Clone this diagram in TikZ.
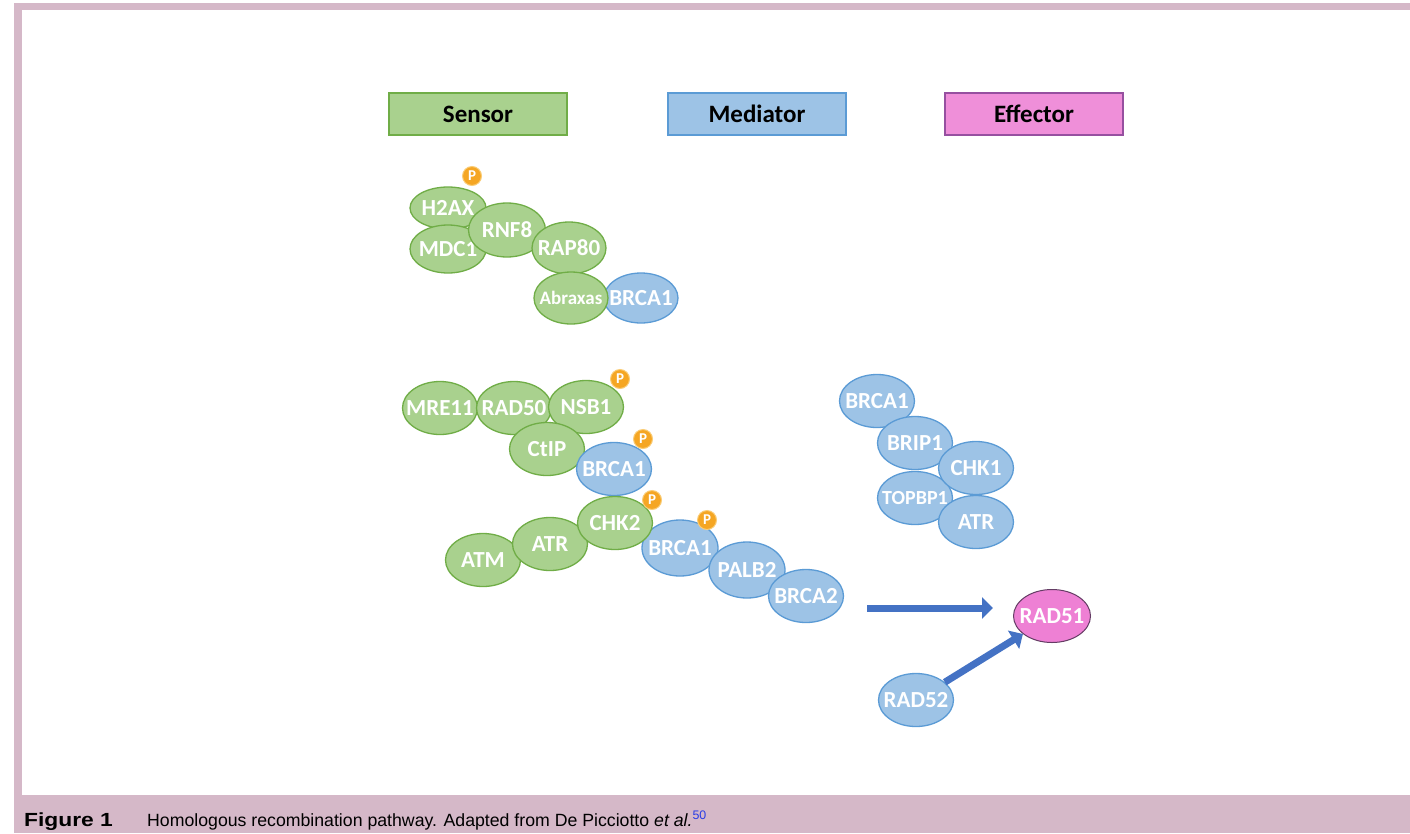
\documentclass[tikz,border=0pt]{standalone}
\usepackage{fontspec}
\setmainfont{Carlito}
\newfontfamily\capfont{Liberation Sans}
\usetikzlibrary{shapes.geometric,arrows.meta}
\definecolor{gfill}{RGB}{169,209,142}
\definecolor{gline}{RGB}{112,173,71}
\definecolor{bfill}{RGB}{157,195,230}
\definecolor{bline}{RGB}{91,155,213}
\definecolor{efill}{RGB}{239,143,217}
\definecolor{eline}{RGB}{150,80,160}
\definecolor{rfill}{RGB}{238,128,212}
\definecolor{rline}{RGB}{100,60,100}
\definecolor{framec}{RGB}{213,184,200}
\definecolor{arrowc}{RGB}{68,114,196}
\definecolor{pfill}{RGB}{245,166,35}
\definecolor{pline}{RGB}{250,205,120}
\definecolor{refblue}{RGB}{40,60,230}
\tikzset{
  prot/.style={ellipse, line width=1.3pt, minimum width=75pt, minimum height=53pt, inner sep=0pt},
  gp/.style={prot, draw=gline, fill=gfill},
  bp/.style={prot, draw=bline, fill=bfill},
  ptxt/.style={text=white, inner sep=0pt, font=\bfseries\fontsize{23}{23}\selectfont},
  phos/.style={circle, fill=pfill, draw=pline, line width=1pt, minimum size=19pt, inner sep=0pt,
    text=white, font=\bfseries\fontsize{15}{15}\selectfont},
  legend/.style={rectangle, line width=1.2pt, minimum width=178pt, minimum height=42pt, inner sep=0pt,
    font=\bfseries\fontsize{25}{25}\selectfont},
  bigarrow/.style={draw=arrowc, line width=7pt, -{Triangle[length=11pt,width=21pt]}}
}
\begin{document}
\begin{tikzpicture}[x=1pt,y=-1pt]
\useasboundingbox (0,0) rectangle (1410,833);
% frame
\fill[framec] (14,3) rectangle (1410,833);
\fill[white] (22,10) rectangle (1410,795);
% legend boxes
\node[legend, draw=gline, fill=gfill] (sensor) at (478,114) {Sensor};
\node[legend, draw=bline, fill=bfill] (mediator) at (757,114) {Mediator};
\node[legend, draw=eline, fill=efill] (effector) at (1034,114) {Effector};
% cluster 1
\node[gp, minimum width=76pt, minimum height=42pt, label={[ptxt]center:H2AX}] (h2ax) at (448,208) {};
\node[gp, minimum width=76pt, minimum height=48pt, label={[ptxt]center:MDC1}] (mdc1) at (448,249) {};
\node[gp, minimum width=77pt, minimum height=54pt, label={[ptxt]center:RNF8}] (rnf8) at (507,230) {};
\node[gp, minimum width=74pt, minimum height=52pt, label={[ptxt]center:RAP80}] (rap80) at (569,248) {};
\node[bp, minimum width=74pt, minimum height=50pt, label={[ptxt]center:BRCA1}] (brcaA) at (641,298) {};
\node[gp, minimum width=74pt, minimum height=52pt, label={[ptxt, font=\bfseries\fontsize{19}{19}\selectfont]center:Abraxas}] (abraxas) at (571,298) {};
\node[phos] (pA) at (472,176) {P};
% cluster 2
\node[gp, label={[ptxt]center:MRE11}] (mre11) at (440,408) {};
\node[gp, label={[ptxt]center:RAD50}] (rad50) at (514,408) {};
\node[gp, label={[ptxt]center:NSB1}] (nsb1) at (586,407) {};
\node[gp, label={[ptxt]center:CtIP}] (ctip) at (547,449) {};
\node[bp, label={[ptxt]center:BRCA1}] (brcaB) at (614,469) {};
\node[gp, label={[ptxt]center:ATM}] (atm) at (483,560) {};
\node[gp, label={[ptxt]center:ATR}] (atrA) at (550,544) {};
\node[bp, minimum width=76pt, minimum height=56pt, label={[ptxt]center:BRCA1}] (brcaC) at (680,548) {};
\node[gp, label={[ptxt]center:CHK2}] (chk2) at (615,523) {};
\node[bp, minimum width=76pt, minimum height=56pt, label={[ptxt]center:PALB2}] (palb2) at (747,570) {};
\node[bp, label={[ptxt]center:BRCA2}] (brca2) at (806,596) {};
\node[phos] (pB) at (620,379) {P};
\node[phos] (pC) at (643,439) {P};
\node[phos] (pD) at (652,500) {P};
\node[phos] (pE) at (707,520) {P};
% cluster 3
\node[bp, label={[ptxt]center:BRCA1}] (brcaD) at (877,401) {};
\node[bp, label={[ptxt]center:BRIP1}] (brip1) at (915,443) {};
\node[bp, label={[ptxt, font=\bfseries\fontsize{20}{20}\selectfont]center:TOPBP1}] (topbp1) at (915,498) {};
\node[bp, label={[ptxt]center:CHK1}] (chk1) at (976,468) {};
\node[bp, label={[ptxt]center:ATR}] (atrB) at (976,522) {};
% effector part
\node[prot, draw=rline, fill=rfill, line width=1pt, minimum width=77pt, label={[ptxt]center:RAD51}] (rad51) at (1052,616) {};
\node[bp, label={[ptxt]center:RAD52}] (rad52) at (916,700) {};
\coordinate (a1s) at (867,608);
\draw[bigarrow, shorten >=20pt] (a1s) -- (a1s -| rad51.west);
\draw[bigarrow] (rad52) -- (rad51);
% caption
\node[anchor=base west, inner sep=0pt, font=\capfont\bfseries\fontsize{19}{19}\selectfont] (figlab) at (24,826) {\scalebox{1.2}[1]{Figure 1}};
\node[anchor=base west, inner sep=0pt, font=\capfont\fontsize{17.7}{17.7}\selectfont] (caption) at (147,826)
  {Homologous recombination pathway. Adapted from De Picciotto \textit{et al.}\textsuperscript{\textcolor{refblue}{50}}};
\end{tikzpicture}
\end{document}
